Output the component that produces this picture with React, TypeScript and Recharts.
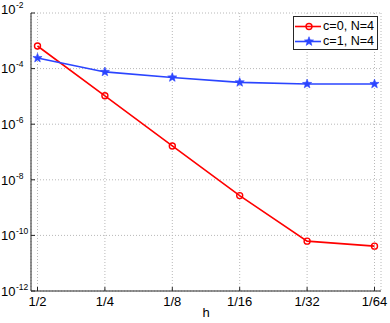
import React from 'react';
import { LineChart, Line, XAxis, YAxis, CartesianGrid, Legend } from 'recharts';

const hLabels = ['1/2', '1/4', '1/8', '1/16', '1/32', '1/64'];
const errC0 = [6.5e-4, 1.05e-5, 1.65e-7, 2.7e-9, 6.2e-11, 4.1e-11];
const errC1 = [2.4e-4, 7.6e-5, 4.8e-5, 3.2e-5, 2.8e-5, 2.8e-5];
const yTicks = [1e-12, 1e-10, 1e-8, 1e-6, 1e-4, 1e-2];
const seriesNames = ['c=0, N=4', 'c=1, N=4'];
const seriesColors = ['#ff0000', '#2b45ff'];

const data = hLabels.map((h, i) => ({ h, c0: errC0[i], c1: errC1[i] }));

const FONT = '"Liberation Sans", Arial, Helvetica, sans-serif';
const AXIS = '#262626';

function starPoints(cx: number, cy: number, R: number) {
  const r = R * 0.42;
  const pts: string[] = [];
  for (let i = 0; i < 10; i++) {
    const a = (-90 + 36 * i) * Math.PI / 180;
    const rr = i % 2 === 0 ? R : r;
    pts.push(`${cx + rr * Math.cos(a)},${cy + rr * Math.sin(a)}`);
  }
  return pts.join(' ');
}

const CircleDot = (props: any) => {
  const { cx, cy } = props;
  if (cx == null || cy == null) return null;
  return <circle cx={cx} cy={cy} r={3} fill="none" stroke={seriesColors[0]} strokeWidth={1.4} />;
};

const StarDot = (props: any) => {
  const { cx, cy } = props;
  if (cx == null || cy == null) return null;
  return <polygon points={starPoints(cx, cy, 4.8)} fill={seriesColors[1]} stroke={seriesColors[1]} strokeWidth={0.6} />;
};

const YTickLeft = (props: any) => {
  const { x, y, payload } = props;
  const exp = Math.round(Math.log10(payload.value));
  const isTop = payload.value === yTicks[yTicks.length - 1];
  const base = isTop ? y + 1 : y + 4.8;
  return (
    <g>
      <line x1={x} x2={x + 4} y1={y} y2={y} stroke={AXIS} strokeWidth={1} />
      <text x={1} y={base} fontSize={13} fontFamily={FONT} fill="#000">
        10<tspan dx={0.5} dy={-6} fontSize={8.5}>{exp}</tspan>
      </text>
    </g>
  );
};

const YTickRight = (props: any) => {
  const { x, y } = props;
  return <line x1={x} x2={x - 4} y1={y} y2={y} stroke={AXIS} strokeWidth={1} />;
};

const XTickBottom = (props: any) => {
  const { x, y, payload } = props;
  return (
    <g>
      <line x1={x} x2={x} y1={y} y2={y - 4} stroke={AXIS} strokeWidth={1} />
      <text x={x} y={y + 15.3} fontSize={13} fontFamily={FONT} fill="#000" textAnchor="middle">
        {payload.value}
      </text>
    </g>
  );
};

const XTickTop = (props: any) => {
  const { x, y } = props;
  return <line x1={x} x2={x} y1={y} y2={y + 4} stroke={AXIS} strokeWidth={1} />;
};

const renderLegend = (props: any) => {
  const payload = props.payload || [];
  return (
    <div
      style={{
        boxSizing: 'border-box',
        width: 85,
        height: 34,
        border: `1px solid ${AXIS}`,
        background: '#fff',
        paddingTop: 2,
        fontFamily: FONT,
        fontSize: 12.6,
        lineHeight: '15px',
      }}
    >
      {payload.map((p: any, i: number) => (
        <div key={i} style={{ display: 'flex', alignItems: 'center', height: 15, whiteSpace: 'nowrap' }}>
          <svg width={29} height={15} style={{ display: 'block' }}>
            <line x1={1} x2={27} y1={7.5} y2={7.5} stroke={p.color} strokeWidth={1.6} />
            {i === 0 ? (
              <circle cx={15} cy={7.5} r={3} fill="none" stroke={p.color} strokeWidth={1.4} />
            ) : (
              <polygon points={starPoints(15, 7.5, 4.8)} fill={p.color} stroke={p.color} strokeWidth={0.6} />
            )}
          </svg>
          <span style={{ color: '#000' }}>{p.value}</span>
        </div>
      ))}
    </div>
  );
};

export default function App() {
  return (
    <div style={{ position: 'fixed', left: 0, top: 0, width: 390, height: 323, background: '#fff' }}>
      <LineChart width={390} height={323} data={data} margin={{ top: 13, right: 9, bottom: 0, left: 0 }}>
        <CartesianGrid
          xAxisId="bottom"
          yAxisId="left"
          stroke="#b8b8b8"
          strokeDasharray="1 2"
          strokeWidth={1}
        />
        <XAxis
          xAxisId="bottom"
          dataKey="h"
          type="category"
          height={32}
          padding={{ left: 6.5, right: 6.5 }}
          tickSize={0}
          tickMargin={0}
          tickLine={false}
          tick={<XTickBottom />}
          axisLine={{ stroke: AXIS, strokeWidth: 1 }}
          interval={0}
          label={{ value: 'h', position: 'insideBottom', offset: 6, fontSize: 13, fontFamily: FONT, fill: '#000' }}
        />
        <XAxis
          xAxisId="top"
          orientation="top"
          dataKey="h"
          type="category"
          height={0}
          padding={{ left: 6.5, right: 6.5 }}
          tickSize={0}
          tickMargin={0}
          tickLine={false}
          tick={<XTickTop />}
          axisLine={{ stroke: AXIS, strokeWidth: 1 }}
          interval={0}
        />
        <YAxis
          yAxisId="left"
          width={31}
          scale="log"
          domain={[1e-12, 1e-2]}
          ticks={yTicks}
          allowDataOverflow
          type="number"
          tickSize={0}
          tickMargin={0}
          tickLine={false}
          tick={<YTickLeft />}
          axisLine={{ stroke: AXIS, strokeWidth: 1 }}
          interval={0}
        />
        <YAxis
          yAxisId="right"
          orientation="right"
          width={0}
          scale="log"
          domain={[1e-12, 1e-2]}
          ticks={yTicks}
          allowDataOverflow
          type="number"
          tickSize={0}
          tickMargin={0}
          tickLine={false}
          tick={<YTickRight />}
          axisLine={{ stroke: AXIS, strokeWidth: 1 }}
          interval={0}
        />
        <Legend
          layout="vertical"
          align="center"
          verticalAlign="middle"
          content={renderLegend}
          wrapperStyle={{ left: 293, top: 16, width: 85, height: 34 }}
        />
        <Line
          xAxisId="bottom"
          yAxisId="left"
          type="linear"
          dataKey="c0"
          name={seriesNames[0]}
          stroke={seriesColors[0]}
          strokeWidth={1.6}
          dot={<CircleDot />}
          activeDot={false}
          isAnimationActive={false}
        />
        <Line
          xAxisId="bottom"
          yAxisId="left"
          type="linear"
          dataKey="c1"
          name={seriesNames[1]}
          stroke={seriesColors[1]}
          strokeWidth={1.6}
          dot={<StarDot />}
          activeDot={false}
          isAnimationActive={false}
        />
      </LineChart>
    </div>
  );
}
